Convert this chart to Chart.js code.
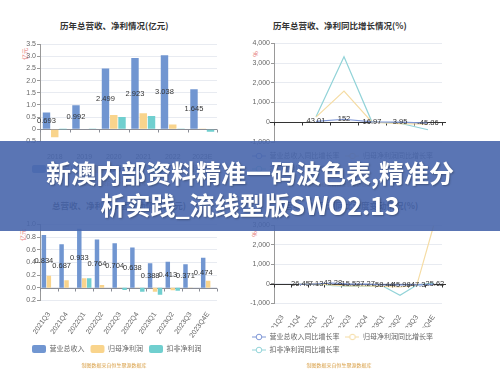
<!DOCTYPE html>
<html>
<head>
<meta charset="utf-8">
<script src="https://cdn.jsdelivr.net/npm/chart.js@4.4.0/dist/chart.umd.min.js"></script>
<style>
  body { margin: 0; width: 500px; height: 372px; background: #fff; position: relative; overflow: hidden;
         font-family: "Liberation Sans", "Noto Sans CJK SC", sans-serif; }
  canvas { position: absolute; }
  .ttl { position: absolute; font-size: 8.5px; font-weight: bold; color: #333; white-space: nowrap; line-height: 1;
         font-family: "Noto Sans CJK SC", sans-serif; transform: translateY(-50%); }
  .src { position: absolute; font-size: 5px; color: #d9a048; white-space: nowrap; line-height: 1;
         font-family: "Noto Sans CJK SC", sans-serif; transform: translate(-50%, -50%); }
  .unit { position: absolute; font-size: 6px; color: #e57373; white-space: nowrap; line-height: 1;
          font-family: "Noto Sans CJK SC", sans-serif; transform: translate(-50%, -50%) rotate(-90deg); }
  #banner { position: absolute; left: 0; top: 141px; width: 500px; height: 90px; box-sizing: border-box;
            padding-top: 15px; background: rgba(72, 102, 172, 0.9); color: #fff; text-align: center;
            font-family: "Noto Sans CJK SC", sans-serif; font-weight: bold; font-size: 25px; line-height: 32px;
            text-shadow: 1px 1px 2px rgba(0, 0, 0, 0.3); }
</style>
</head>
<body>

<div class="ttl" style="left:60px;top:25px">历年总营收、净利情况(亿元)</div>
<div class="ttl" style="left:273px;top:25px">历年总营收、净利同比增长情况(%)</div>
<div class="ttl" style="left:52px;top:205px">总营收、净利润季度变动情况(亿元)</div>
<div class="ttl" style="left:276px;top:205px">总营收、净利润同比季度变动情况(%)</div>

<div class="unit" style="left:25px;top:54px">亿元</div>
<div class="unit" style="left:256px;top:54px">%</div>
<div class="unit" style="left:23px;top:235px">亿元</div>
<div class="unit" style="left:255px;top:234px">%</div>

<canvas id="yearBar" width="200" height="155" style="left:26px;top:30px"></canvas>
<canvas id="yearLine" width="204" height="155" style="left:246px;top:30px"></canvas>
<canvas id="quarterBar" width="200" height="155" style="left:26px;top:210px"></canvas>
<canvas id="quarterLine" width="204" height="156" style="left:246px;top:210px"></canvas>

<div class="src" style="left:114px;top:182px">制图数据来自恒生聚源数据库</div>
<div class="src" style="left:339px;top:183px">制图数据来自恒生聚源数据库</div>
<div class="src" style="left:114px;top:364px">制图数据来自恒生聚源数据库</div>
<div class="src" style="left:339px;top:364px">制图数据来自恒生聚源数据库</div>

<div id="banner">新澳内部资料精准一码波色表,精准分<br>析实践_流线型版SWO2.13</div>

<script>
// yearly figures (亿元)
const yearLabels = ['2018', '2019', '2020', '2021', '2022', '2023E'];
const yearRevenue = [0.693, 0.992, 2.499, 2.923, 3.038, 1.645];
const yearNetProfit = [-0.33, 0.02, 0.59, 0.66, 0.2, 0.01];
const yearDeducted = [0.005, 0.01, 0.51, 0.55, 0.03, -0.1];

// yearly growth (%)
const yearRevenueGrowth = [null, 43.01, 152, 16.97, 3.95, -45.86];
const yearNetProfitGrowth = [null, 260, 1580, 8, -65, -90];
const yearDeductedGrowth = [null, 280, 3320, 10, -50, -380];

// quarterly figures (亿元)
const quarterLabels = ['2021Q3', '2021Q4', '2022Q1', '2022Q2', '2022Q3', '2022Q4', '2023Q1', '2023Q2', '2023Q3', '2023Q4E'];
const quarterRevenue = [0.834, 0.687, 0.933, 0.764, 0.704, 0.638, 0.388, 0.413, 0.371, 0.474];
const quarterNetProfit = [0.19, 0.12, 0.15, 0.045, 0.005, 0.004, -0.06, -0.04, 0.004, 0.11];
const quarterDeducted = [0.003, 0.002, 0.15, 0.003, -0.035, -0.06, -0.11, -0.045, 0.002, 0.003];

// quarterly growth (%)
const quarterRevenueGrowth = [null, -26.45, 7.13, 43.28, -15.52, -7.27, -58.44, -45.98, -47.3, -25.62];
const quarterNetProfitGrowth = [null, -25, 30, -60, -97, -98, -129, -160, -60, 2960];
const quarterDeductedGrowth = [null, -30, 20, -90, -110, -120, -120, -580, -60, 40];

const BLUE = '#7196d1';
const YELLOW = '#f9d48c';
const TEAL = '#70cfcf';
const LINE_BLUE = '#7f97d6';
const LINE_YELLOW = '#f5dca4';
const LINE_TEAL = '#92d3d8';

Chart.defaults.font.family = '"Liberation Sans", "Noto Sans CJK SC", sans-serif';
Chart.defaults.font.size = 7;
Chart.defaults.color = '#666';

// axis line through zero with ticks at the category boundaries
const zeroAxis = {
  id: 'zeroAxis',
  beforeDatasetsDraw(chart, args, opts) {
    const {ctx, chartArea, scales} = chart;
    const y0 = Math.round(scales.y.getPixelForValue(0)) + 0.5;
    const n = chart.data.labels.length;
    ctx.save();
    ctx.strokeStyle = opts.color;
    ctx.lineWidth = 1;
    ctx.beginPath();
    ctx.moveTo(chartArea.left - (opts.extend || 0), y0);
    ctx.lineTo(chartArea.right + (opts.extend || 0), y0);
    for (let i = 0; i <= n; i++) {
      const xp = Math.round(scales.x.getPixelForValue(i - 0.5)) + 0.5;
      ctx.moveTo(xp, y0);
      ctx.lineTo(xp, y0 + 3);
    }
    ctx.stroke();
    ctx.restore();
  }
};

// value labels for the first series
const valueLabels = {
  id: 'valueLabels',
  afterDatasetsDraw(chart, args, opts) {
    const ctx = chart.ctx;
    const meta = chart.getDatasetMeta(0);
    const data = chart.data.datasets[0].data;
    ctx.save();
    ctx.font = '7.5px "Liberation Sans", sans-serif';
    ctx.fillStyle = '#333';
    ctx.textAlign = 'center';
    ctx.textBaseline = 'middle';
    meta.data.forEach((el, i) => {
      if (data[i] === null) return;
      const y = opts.mid ? (el.y + el.base) / 2 : el.y;
      ctx.fillText(String(data[i]), el.x, y);
    });
    ctx.restore();
  }
};

function lineIcon(color) {
  const c = document.createElement('canvas');
  c.width = 14;
  c.height = 8;
  const g = c.getContext('2d');
  g.strokeStyle = color;
  g.lineWidth = 1;
  g.beginPath();
  g.moveTo(0, 4);
  g.lineTo(14, 4);
  g.stroke();
  g.fillStyle = '#fff';
  g.beginPath();
  g.arc(7, 4, 2.8, 0, Math.PI * 2);
  g.fill();
  g.stroke();
  return c;
}

function barChart(id, labels, series, yMin, yMax, step, pad, xHeight, rotation) {
  return new Chart(document.getElementById(id), {
    type: 'bar',
    data: {
      labels: labels,
      datasets: [
        {label: '营业总收入', data: series[0], backgroundColor: BLUE},
        {label: '归母净利润', data: series[1], backgroundColor: YELLOW},
        {label: '扣非净利润', data: series[2], backgroundColor: TEAL}
      ]
    },
    options: {
      responsive: false,
      animation: false,
      locale: 'en-US',
      layout: {padding: pad},
      datasets: {bar: {categoryPercentage: 0.84, barPercentage: 0.9}},
      scales: {
        x: {
          grid: {display: false},
          border: {display: false},
          ticks: {padding: rotation ? 2 : 3, autoSkip: false, minRotation: rotation, maxRotation: rotation},
          afterFit: s => { s.height = xHeight; }
        },
        y: {
          min: yMin, max: yMax,
          ticks: {stepSize: step, padding: 1},
          grid: {color: '#e8ebf1', tickLength: 3, tickColor: '#999'},
          border: {color: '#999'},
          afterFit: s => { s.width = 14; }
        }
      },
      plugins: {
        legend: {
          position: 'bottom', align: 'start',
          labels: {boxWidth: 14, boxHeight: 8, padding: 6, useBorderRadius: true, borderRadius: 2}
        },
        tooltip: {enabled: false},
        zeroAxis: {color: '#8a8d96'},
        valueLabels: {mid: true}
      }
    },
    plugins: [zeroAxis, valueLabels]
  });
}

function lineChart(id, labels, series, yMin, yMax, step, pad, xHeight, rotation) {
  const mk = (label, data, color) => ({
    label: label, data: data, borderColor: color, backgroundColor: color,
    borderWidth: 1.2, pointRadius: 0, pointStyle: lineIcon(color), tension: 0
  });
  return new Chart(document.getElementById(id), {
    type: 'line',
    data: {
      labels: labels,
      datasets: [
        mk('营业总收入同比增长率', series[0], LINE_BLUE),
        mk('归母净利润同比增长率', series[1], LINE_YELLOW),
        mk('扣非净利润同比增长率', series[2], LINE_TEAL)
      ]
    },
    options: {
      responsive: false,
      animation: false,
      locale: 'en-US',
      layout: {padding: pad},
      scales: {
        x: {
          offset: true,
          grid: {display: false},
          border: {display: false},
          ticks: {padding: rotation ? 2 : 3, autoSkip: false, minRotation: rotation, maxRotation: rotation},
          afterFit: s => { s.height = xHeight; }
        },
        y: {
          min: yMin, max: yMax,
          ticks: {stepSize: step, padding: 1},
          grid: {color: '#e8ebf1', tickLength: 3, tickColor: '#999'},
          border: {color: '#999'},
          afterFit: s => { s.width = 28; }
        }
      },
      plugins: {
        legend: {
          position: 'bottom', align: 'start',
          labels: {usePointStyle: true, pointStyleWidth: 14, padding: 6}
        },
        tooltip: {enabled: false},
        zeroAxis: {color: '#333', extend: 4},
        valueLabels: {mid: false}
      }
    },
    plugins: [zeroAxis, valueLabels]
  });
}

barChart('yearBar', yearLabels, [yearRevenue, yearNetProfit, yearDeducted],
  -0.5, 3.5, 0.5, {left: 0, right: 9, top: 14, bottom: 2}, 17.5, 0);
lineChart('yearLine', yearLabels, [yearRevenueGrowth, yearNetProfitGrowth, yearDeductedGrowth],
  -1000, 4000, 1000, {left: 0, right: 8, top: 13.3, bottom: 2.5}, 4.5, 0);
barChart('quarterBar', quarterLabels, [quarterRevenue, quarterNetProfit, quarterDeducted],
  -0.2, 1, 0.2, {left: 0, right: 9, top: 14.5, bottom: 2}, 38.5, 55);
lineChart('quarterLine', quarterLabels, [quarterRevenueGrowth, quarterNetProfitGrowth, quarterDeductedGrowth],
  -1000, 3000, 500, {left: 0, right: 8, top: 15, bottom: 2.5}, 24, 55);
</script>
</body>
</html>
